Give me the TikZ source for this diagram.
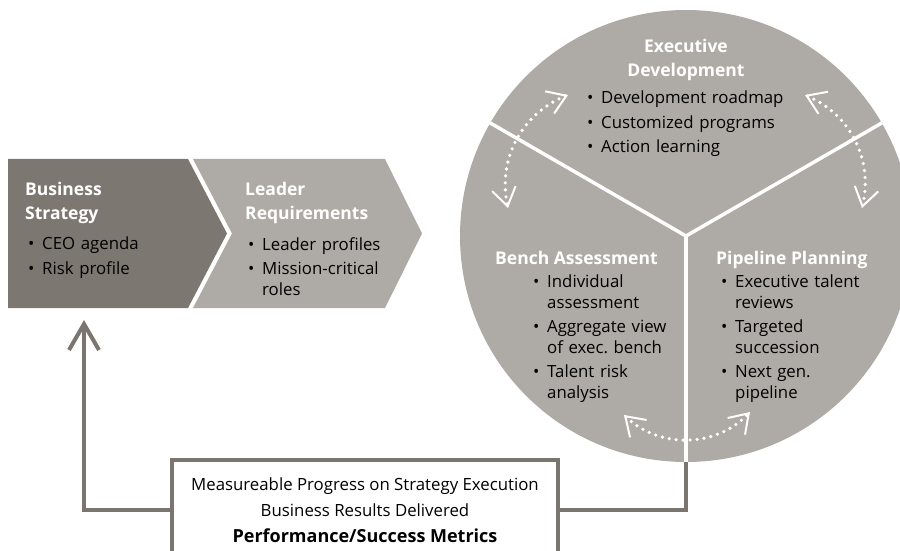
\documentclass[tikz,border=0pt]{standalone}
\usepackage{fontspec}
\setmainfont{Open Sans}
\usetikzlibrary{arrows.meta}
\definecolor{stonedark}{HTML}{7C7771}
\definecolor{stonelight}{HTML}{AEABA6}
\definecolor{stoneline}{HTML}{7A756F}
\newcommand{\litem}[1]{\hangindent=14pt\hangafter=1\noindent\makebox[14pt][l]{\textbullet}#1\par}
\begin{document}
\begin{tikzpicture}[x=1pt,y=1pt,
    headtext/.style={font=\fontsize{17.5}{24}\selectfont\bfseries, text=white, align=left, inner sep=0pt, anchor=north west},
    bullets/.style={font=\fontsize{16.8}{20.5}\selectfont, text width=220pt, align=left, inner sep=0pt, anchor=north west,
      execute at begin node={\setlength{\parskip}{4pt}}},
    divider/.style={white, line width=3.5pt},
    cyclearrow/.style={white, line width=3.6pt, line cap=round, dash pattern=on 0pt off 7pt,
      {Straight Barb[length=18pt,width=24pt,line width=2pt]}-{Straight Barb[length=18pt,width=24pt,line width=2pt]}},
    feedline/.style={draw=stoneline, line width=4pt},
  ]
  \useasboundingbox (0,0) rectangle (900,550);
  \clip (0,0) rectangle (900,550);
  % chevrons
  \fill[stonedark] (8,391) -- (188,391) -- (227,316.5) -- (188,242) -- (8,242) -- cycle;
  \fill[stonelight] (193,391) -- (385,391) -- (422,316.5) -- (385,242) -- (193,242) -- (232,316.5) -- cycle;
  \node[headtext] (strategy) at (25,368) {Business\\Strategy};
  \node[bullets] (strategylist) at (28,313) {\litem{CEO agenda}\litem{Risk profile}};
  \node[headtext] (leader) at (245,368) {Leader\\Requirements};
  \node[bullets] (leaderlist) at (248,313) {\litem{Leader profiles}\litem{Mission-critical\newline roles}};
  % wheel
  \node[circle, fill=stonelight, minimum size=452pt, inner sep=0pt] (wheel) at (686,314) {};
  \draw[divider] (wheel.center) -- (wheel.150);
  \draw[divider] (wheel.center) -- (wheel.30);
  \draw[divider] (wheel.center) -- (wheel.south);
  \node[headtext, anchor=north, align=center] (exec) at (686,511) {Executive\\Development};
  \node[bullets] (execlist) at (587,459) {\litem{Development roadmap}\litem{Customized programs}\litem{Action learning}};
  \node[headtext] (bench) at (495,299) {Bench Assessment};
  \node[bullets] (benchlist) at (533,275) {\litem{Individual\newline assessment}\litem{Aggregate view\newline of exec.\ bench}\litem{Talent risk\newline analysis}};
  \node[headtext] (pipeline) at (716,299) {Pipeline Planning};
  \node[bullets] (pipelinelist) at (721,275) {\litem{Executive talent\newline reviews}\litem{Targeted\newline succession}\litem{Next gen.\newline pipeline}};
  % cycle arrows
  \coordinate (ul-a) at (568,455);
  \coordinate (ul-b) at (508,342);
  \coordinate (ur-a) at (805,455);
  \coordinate (ur-b) at (862,342);
  \coordinate (bt-a) at (624,135);
  \coordinate (bt-b) at (750,138);
  \draw[cyclearrow] (ul-a) to[bend right=40] (ul-b);
  \draw[cyclearrow] (ur-a) to[bend left=40] (ur-b);
  \draw[cyclearrow] (bt-a) to[bend right=45] (bt-b);
  % metrics
  \node[draw=stoneline, line width=4pt, fill=white, minimum width=386pt, minimum height=100pt, align=center,
    font=\fontsize{16.8}{26}\selectfont] (metrics) at (365,40)
    {Measureable Progress on Strategy Execution\\Business Results Delivered\\{\fontsize{18}{26}\selectfont\bfseries Performance/Success Metrics}};
  \coordinate (feedback) at (84,230);
  \draw[feedline, -{Straight Barb[length=26pt,width=30pt]}] (metrics.west) -| (feedback);
  \draw[feedline] (wheel.south) |- (metrics.east);
\end{tikzpicture}
\end{document}
